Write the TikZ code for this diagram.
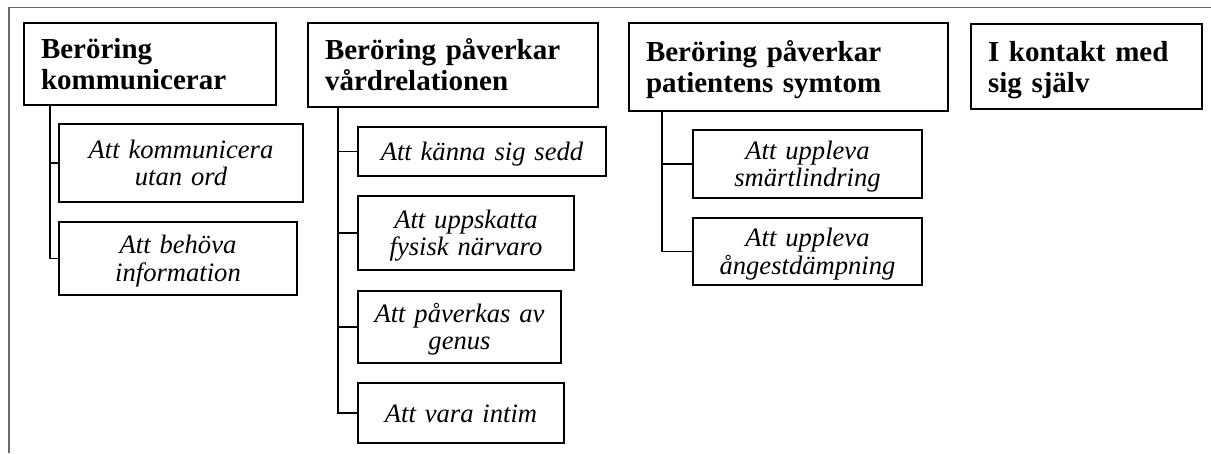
\documentclass[tikz,border=0pt]{standalone}
\usepackage{fontspec}
\setmainfont{Liberation Serif}
\definecolor{framegray}{RGB}{105,105,105}
\tikzset{
  head/.style={draw=black, line width=2.5pt, inner xsep=17pt, inner ysep=0pt, align=left,
    font=\bfseries\fontsize{29}{31}\selectfont, text height=20pt, text depth=31pt},
  sub/.style={draw=black, line width=1.2pt, inner xsep=5pt, inner ysep=0pt, align=center,
    font=\itshape\fontsize{26.6}{27.5}\selectfont, text height=18pt},
  subtwo/.style={sub, text depth=27.5pt},
  subone/.style={sub, text depth=0pt},
  conn/.style={draw=black, line width=1.3pt},
  frame/.style={draw=framegray, line width=1.6pt}
}
\begin{document}
\begin{tikzpicture}[x=1pt, y=-1pt]
\useasboundingbox (0,0) rectangle (1211,453);
% outer frame
\coordinate (fbl) at (9,453);
\coordinate (ftl) at (9,7.5);
\coordinate (ftr) at (1211,7.5);
\draw[frame] (fbl) -- (ftl) -- (ftr);

% headers
\node[head, text width=218pt, minimum height=82pt] (h1) at (150,64) {Beröring\\kommunicerar};
\node[head, text width=256pt, minimum height=84pt] (h2) at (453,65) {Beröring påverkar\\vårdrelationen};
\node[head, text width=285pt, minimum height=88pt] (h3) at (788.5,67) {Beröring påverkar\\patientens symtom};
\node[head, text width=197pt, minimum height=85pt] (h4) at (1086.5,66.5) {I kontakt med\\sig själv};

% children column 1
\node[subtwo, text width=234pt, minimum height=78pt] (c1a) at (181,163) {Att kommunicera\\utan ord};
\node[subtwo, text width=228pt, minimum height=73pt] (c1b) at (178,258.5) {Att behöva\\information};

% children column 2
\node[subone, text width=238pt, minimum height=49pt] (c2a) at (482,151.5) {Att känna sig sedd};
\node[subtwo, text width=206pt, minimum height=74pt] (c2b) at (466,233) {Att uppskatta\\fysisk närvaro};
\node[subtwo, text width=193pt, minimum height=72pt] (c2c) at (459.5,327) {Att påverkas av\\genus};
\node[subone, text width=196pt, minimum height=60pt] (c2d) at (461,413) {Att vara intim};

% children column 3
\node[subtwo, text width=219pt, minimum height=68pt] (c3a) at (807.5,164) {Att uppleva\\smärtlindring};
\node[subtwo, text width=219pt, minimum height=67pt] (c3b) at (807.5,251.5) {Att uppleva\\ångestdämpning};

% spines
\coordinate (s1) at (50,0);
\coordinate (s2) at (338,0);
\coordinate (s3) at (662,0);

\draw[conn] (h1.south -| s1) |- (c1a.west);
\draw[conn] (h1.south -| s1) |- (c1b.west);

\draw[conn] (h2.south -| s2) |- (c2a.west);
\draw[conn] (h2.south -| s2) |- (c2b.west);
\draw[conn] (h2.south -| s2) |- (c2c.west);
\draw[conn] (h2.south -| s2) |- (c2d.west);

\draw[conn] (h3.south -| s3) |- (c3a.west);
\draw[conn] (h3.south -| s3) |- (c3b.west);
\end{tikzpicture}
\end{document}
